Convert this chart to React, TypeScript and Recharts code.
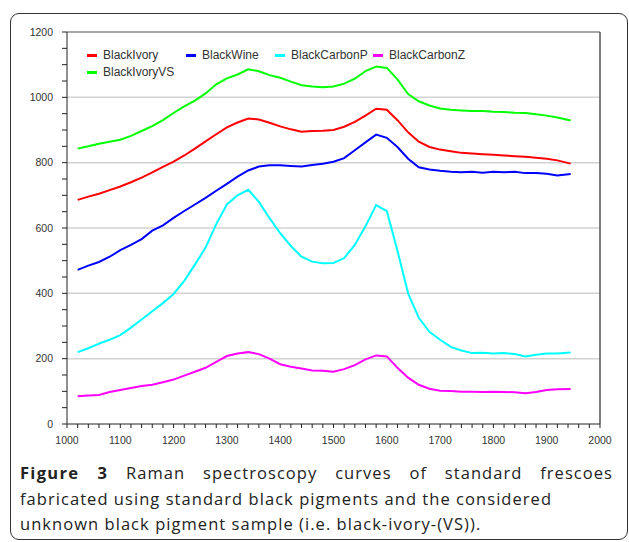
import React from "react";
import { LineChart, Line, XAxis, YAxis, ReferenceLine } from "recharts";

// wavenumber (cm-1)
const shift = [
  1020, 1040, 1060, 1080, 1100, 1120, 1140, 1160, 1180, 1200, 1220, 1240,
  1260, 1280, 1300, 1320, 1340, 1360, 1380, 1400, 1420, 1440, 1460, 1480,
  1500, 1520, 1540, 1560, 1580, 1600, 1620, 1640, 1660, 1680, 1700, 1720,
  1740, 1760, 1780, 1800, 1820, 1840, 1860, 1880, 1900, 1920, 1945,
];

const blackIvory = [
  686, 696, 705, 716, 727, 740, 754, 770, 787, 803, 822, 843,
  865, 887, 908, 923, 935, 932, 922, 911, 902, 895, 897, 898,
  900, 910, 925, 944, 965, 962, 930, 893, 864, 848, 840, 835,
  830, 828, 826, 824, 822, 820, 818, 815, 812, 807, 797,
];

const blackWine = [
  472, 485, 496, 512, 532, 548, 566, 592, 608, 631, 652, 672,
  692, 714, 735, 757, 776, 788, 792, 792, 790, 788, 793, 797,
  803, 814, 838, 862, 886, 876, 848, 812, 786, 779, 775, 772,
  771, 772, 769, 772, 771, 772, 768, 768, 766, 761, 765,
];

const blackCarbonP = [
  220, 232, 246, 258, 272, 295, 320, 345, 370, 398, 438, 488,
  540, 612, 672, 700, 717, 680, 630, 584, 545, 512, 497, 492,
  493, 508, 548, 605, 670, 652, 530, 400, 325, 282, 258, 236,
  225, 217, 218, 216, 217, 214, 207, 212, 216, 216, 219,
];

const blackCarbonZ = [
  85, 87, 89, 98, 104, 110, 116, 120, 128, 136, 148, 160,
  172, 190, 208, 216, 220, 214, 200, 183, 175, 170, 164, 163,
  160, 168, 180, 198, 210, 207, 172, 142, 120, 108, 102, 101,
  99, 99, 98, 99, 98, 97, 94, 98, 104, 106, 107,
];

const blackIvoryVS = [
  843, 850, 858, 864, 870, 882, 897, 912, 930, 952, 972, 990,
  1012, 1040, 1058, 1070, 1086, 1080, 1068, 1060, 1048, 1037, 1033, 1031,
  1033, 1042, 1057, 1080, 1094, 1090, 1055, 1010, 988, 975, 966, 962,
  960, 958, 958, 956, 955, 953, 952, 948, 944, 938, 929,
];

const xLabels = [1000, 1100, 1200, 1300, 1400, 1500, 1600, 1700, 1800, 1900, 2000];
const yLabels = [0, 200, 400, 600, 800, 1000, 1200];
const gridValues = [200, 400, 600, 800, 1000];

const xTicks: number[] = [];
for (let v = 1000; v <= 2000; v += 20) xTicks.push(v);
const yTicks: number[] = [];
for (let v = 0; v <= 1200; v += 50) yTicks.push(v);

const data = shift.map((x, i) => ({
  x,
  BlackIvory: blackIvory[i],
  BlackWine: blackWine[i],
  BlackCarbonP: blackCarbonP[i],
  BlackCarbonZ: blackCarbonZ[i],
  BlackIvoryVS: blackIvoryVS[i],
}));

const series = [
  { key: "BlackIvory", color: "#ff0000", lx: 87, ly: 55 },
  { key: "BlackWine", color: "#0000ff", lx: 186, ly: 55 },
  { key: "BlackCarbonP", color: "#00ffff", lx: 275, ly: 55 },
  { key: "BlackCarbonZ", color: "#ff00ff", lx: 373, ly: 55 },
  { key: "BlackIvoryVS", color: "#00ff00", lx: 87, ly: 72 },
];

const tickFont = { fontFamily: "Liberation Sans, Arial, sans-serif", fontSize: 10.5, fill: "#333" };

const LegendBox = () => (
  <div style={{ position: "absolute", left: 0, top: 0, width: 629, height: 80, pointerEvents: "none" }}>
    {series.map((s) => (
      <div
        key={s.key}
        style={{
          position: "absolute",
          left: s.lx,
          top: s.ly - 8,
          height: 16,
          display: "flex",
          alignItems: "center",
          fontFamily: "Liberation Sans, Arial, sans-serif",
          fontSize: 12,
          color: "#333",
          whiteSpace: "nowrap",
        }}
      >
        <span style={{ display: "inline-block", width: 10, height: 3, background: s.color, marginRight: 6 }} />
        {s.key}
      </div>
    ))}
  </div>
);

export default function App() {
  return (
    <div style={{ position: "absolute", left: 0, top: 0, width: 629, height: 542, background: "#fff" }}>
      <div
        style={{
          position: "absolute",
          left: 10,
          top: 13,
          width: 618,
          height: 527,
          border: "1.5px solid #333",
          borderRadius: 9,
          boxSizing: "border-box",
        }}
      />
      <div style={{ position: "absolute", left: 0, top: 0 }}>
        <LineChart width={629} height={450} data={data} margin={{ top: 32, right: 29, bottom: 6, left: 10 }}>
          {gridValues.map((v) => (
            <ReferenceLine key={v} y={v} stroke="#d2d2d2" strokeWidth={1.5} />
          ))}
          <ReferenceLine y={1200} stroke="#8a8a8a" strokeWidth={1.5} />
          <ReferenceLine x={2000} stroke="#555" strokeWidth={1.5} />
          <XAxis
            dataKey="x"
            type="number"
            domain={[1000, 2000]}
            ticks={xTicks}
            interval={0}
            tickFormatter={(v: number) => (xLabels.includes(v) ? String(v) : "")}
            tick={tickFont}
            tickSize={4}
            tickMargin={9}
            stroke="#222"
            height={20}
            allowDataOverflow
          />
          <YAxis
            type="number"
            domain={[0, 1200]}
            ticks={yTicks}
            interval={0}
            tickFormatter={(v: number) => (yLabels.includes(v) ? String(v) : "")}
            tick={tickFont}
            tickSize={5}
            tickMargin={9}
            stroke="#222"
            width={57}
            allowDataOverflow
          />
          {series.map((s) => (
            <Line
              key={s.key}
              dataKey={s.key}
              stroke={s.color}
              strokeWidth={2}
              dot={false}
              type="linear"
              isAnimationActive={false}
            />
          ))}
        </LineChart>
      </div>
      <LegendBox />
      <div
        style={{
          position: "absolute",
          left: 20,
          top: 460,
          width: 593,
          fontFamily: "'Open Sans', sans-serif",
          fontSize: 16.5,
          letterSpacing: 1.05,
          lineHeight: "25.5px",
          color: "#222",
        }}
      >
        <div style={{ textAlign: "justify", textAlignLast: "justify" }}>
          <b style={{ letterSpacing: 1.3 }}>Figure 3</b> Raman spectroscopy curves of standard frescoes
        </div>
        <div style={{ whiteSpace: "nowrap" }}>fabricated using standard black pigments and the considered</div>
        <div style={{ whiteSpace: "nowrap" }}>unknown black pigment sample (i.e. black-ivory-(VS)).</div>
      </div>
    </div>
  );
}
